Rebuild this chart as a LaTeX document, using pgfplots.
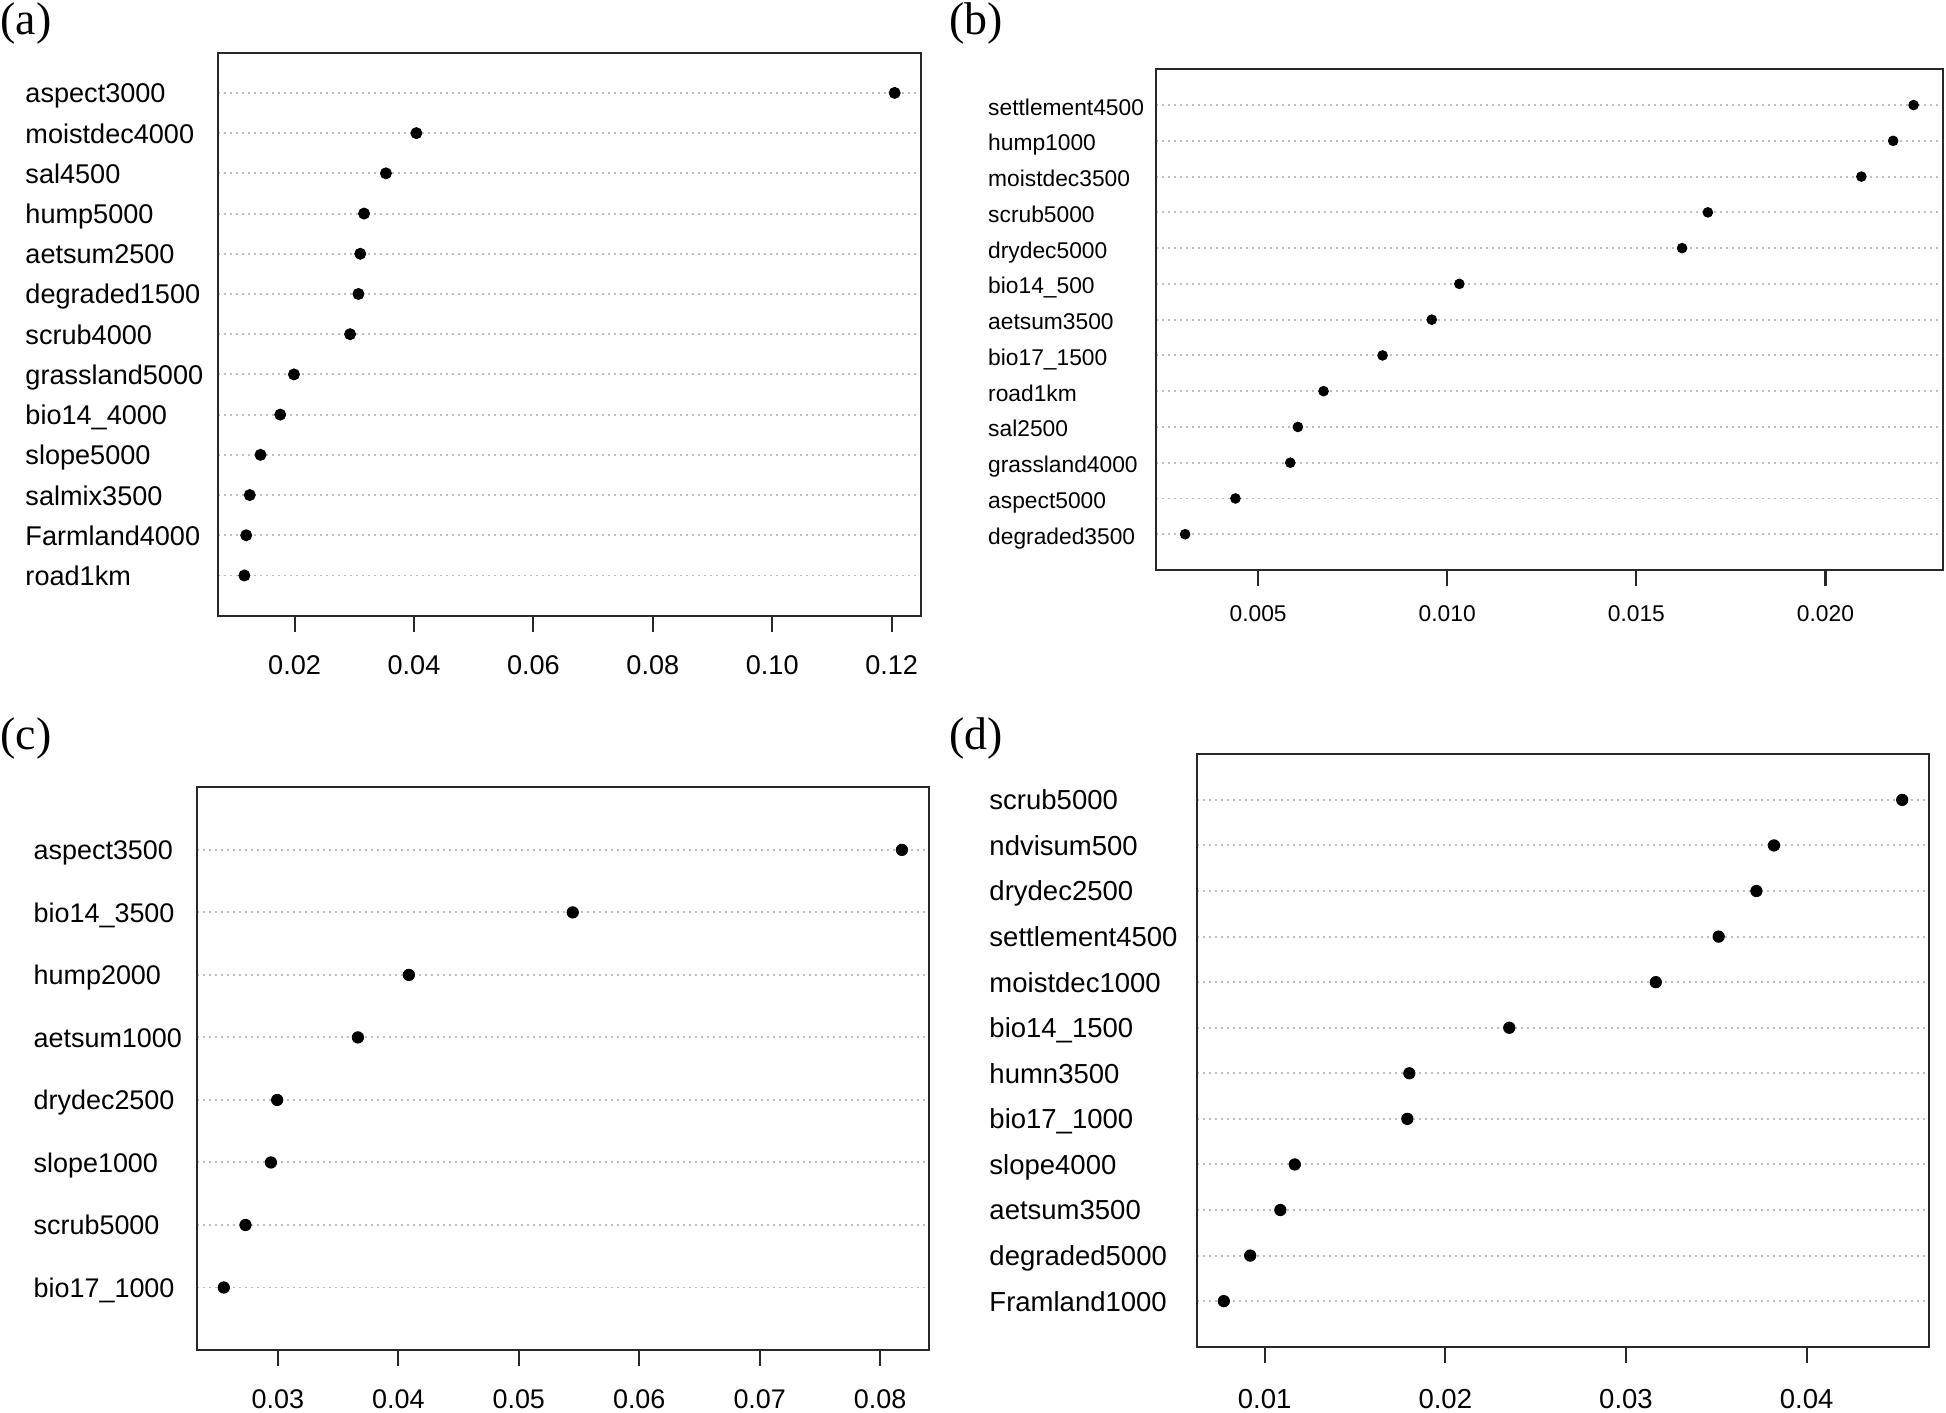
\documentclass[border=0pt]{standalone}
\usepackage{pgfplots}
\pgfplotsset{compat=1.18}
\usepackage{fontspec}
\setmainfont{Liberation Sans}
\newfontfamily\timesfont{Liberation Serif}
\definecolor{gridgray}{RGB}{190,190,190}
\definecolor{boxcol}{RGB}{40,40,40}
\pgfplotsset{
  dotpanel/.style={
    scale only axis,
    anchor=south west,
    ymin=0,
    tick align=outside,
    xtick pos=left, ytick pos=left,
    major tick length=5.8pt,
    axis line style={boxcol, line width=0.75pt},
    xtick style={boxcol, line width=0.75pt},
    ytick style={draw=none},
    ymajorgrids,
    major grid style={gridgray, line width=0.7pt, dash pattern=on 0.7pt off 1.46pt},
    scaled x ticks=false,
    /pgf/number format/assume math mode=true,
    xticklabel style={anchor=center, inner sep=0pt, text height=0.716em, text depth=0pt},
    yticklabel style={anchor=west, inner sep=0pt, text height=0.716em, text depth=0pt},
  },
  dots/.style={only marks, mark=*, mark options={fill=black, draw=black, line width=0.3pt}},
}
\begin{document}
\begin{tikzpicture}
\useasboundingbox (0,0) rectangle (700.56pt,-508.32pt);
% (a)
\begin{axis}[dotpanel, at={(78.48pt,-221.65pt)}, width=252.97pt, height=202.68pt,
  xmin=0.00718, xmax=0.12486, ymax=14,
  xtick={0.02,0.04,0.06,0.08,0.10,0.12},
  x tick label style={/pgf/number format/fixed, /pgf/number format/fixed zerofill, /pgf/number format/precision=2, yshift=-11.9pt},
  ytick={1,...,13},
  yticklabels={road1km, Farmland4000, salmix3500, slope5000, bio14\_4000, grassland5000, scrub4000, degraded1500, aetsum2500, hump5000, sal4500, moistdec4000, aspect3000},
  y tick label style={xshift=-63.7pt},
  tick label style={font=\fontsize{9.75}{11.7}\selectfont},
]
\addplot[dots, mark size=2pt] coordinates {(0.0116,1) (0.0119,2) (0.0125,3) (0.0143,4) (0.0176,5) (0.0199,6) (0.0293,7) (0.0307,8) (0.0310,9) (0.03164,10) (0.0353,11) (0.0404,12) (0.1205,13)};
\end{axis}
% (b)
\begin{axis}[dotpanel, at={(416.16pt,-205.2pt)}, width=283.21pt, height=180.25pt,
  xmin=0.00230, xmax=0.02310, ymax=14,
  xtick={0.005,0.010,0.015,0.020},
  x tick label style={/pgf/number format/fixed, /pgf/number format/fixed zerofill, /pgf/number format/precision=3, yshift=-9.2pt},
  ytick={1,...,13},
  yticklabels={degraded3500, aspect5000, grassland4000, sal2500, road1km, bio17\_1500, aetsum3500, bio14\_500, drydec5000, scrub5000, moistdec3500, hump1000, settlement4500},
  y tick label style={xshift=-54.8pt},
  tick label style={font=\fontsize{8.2}{9.8}\selectfont},
]
\addplot[dots, mark size=1.75pt] coordinates {(0.00307,1) (0.00440,2) (0.00585,3) (0.00605,4) (0.00673,5) (0.00829,6) (0.00959,7) (0.01032,8) (0.01621,9) (0.01689,10) (0.02095,11) (0.02179,12) (0.02233,13)};
\end{axis}
% (c)
\begin{axis}[dotpanel, at={(70.81pt,-486pt)}, width=263.63pt, height=202.57pt,
  xmin=0.02327, xmax=0.08405, ymax=9,
  xtick={0.03,0.04,0.05,0.06,0.07,0.08},
  x tick label style={/pgf/number format/fixed, /pgf/number format/fixed zerofill, /pgf/number format/precision=2, yshift=-11.5pt},
  ytick={1,...,8},
  yticklabels={bio17\_1000, scrub5000, slope1000, drydec2500, aetsum1000, hump2000, bio14\_3500, aspect3500},
  y tick label style={xshift=-53.1pt},
  tick label style={font=\fontsize{9.7}{11.6}\selectfont},
]
\addplot[dots, mark size=2.05pt] coordinates {(0.02552,1) (0.02732,2) (0.02943,3) (0.02995,4) (0.03665,5) (0.04088,6) (0.05448,7) (0.0818,8)};
\end{axis}
% (d)
\begin{axis}[dotpanel, at={(430.81pt,-484.81pt)}, width=263.74pt, height=213.26pt,
  xmin=0.00624, xmax=0.04679, ymax=13,
  xtick={0.01,0.02,0.03,0.04},
  x tick label style={/pgf/number format/fixed, /pgf/number format/fixed zerofill, /pgf/number format/precision=2, yshift=-12.7pt},
  ytick={1,...,12},
  yticklabels={Framland1000, degraded5000, aetsum3500, slope4000, bio17\_1000, humn3500, bio14\_1500, moistdec1000, settlement4500, drydec2500, ndvisum500, scrub5000},
  y tick label style={xshift=-69.0pt},
  tick label style={font=\fontsize{9.9}{11.9}\selectfont},
]
\addplot[dots, mark size=2.05pt] coordinates {(0.00774,1) (0.0092,2) (0.01087,3) (0.01167,4) (0.0179,5) (0.01801,6) (0.02354,7) (0.03165,8) (0.03513,9) (0.03722,10) (0.03819,11) (0.04529,12)};
\end{axis}
\node[anchor=west, inner sep=0pt, font=\timesfont\fontsize{16.5}{19}\selectfont] at (0pt,-8.5pt) {(a)};
\node[anchor=west, inner sep=0pt, font=\timesfont\fontsize{16.5}{19}\selectfont] at (341.6pt,-8.5pt) {(b)};
\node[anchor=west, inner sep=0pt, font=\timesfont\fontsize{16.5}{19}\selectfont] at (0pt,-265.7pt) {(c)};
\node[anchor=west, inner sep=0pt, font=\timesfont\fontsize{16.5}{19}\selectfont] at (341.6pt,-265.7pt) {(d)};
\end{tikzpicture}
\end{document}
